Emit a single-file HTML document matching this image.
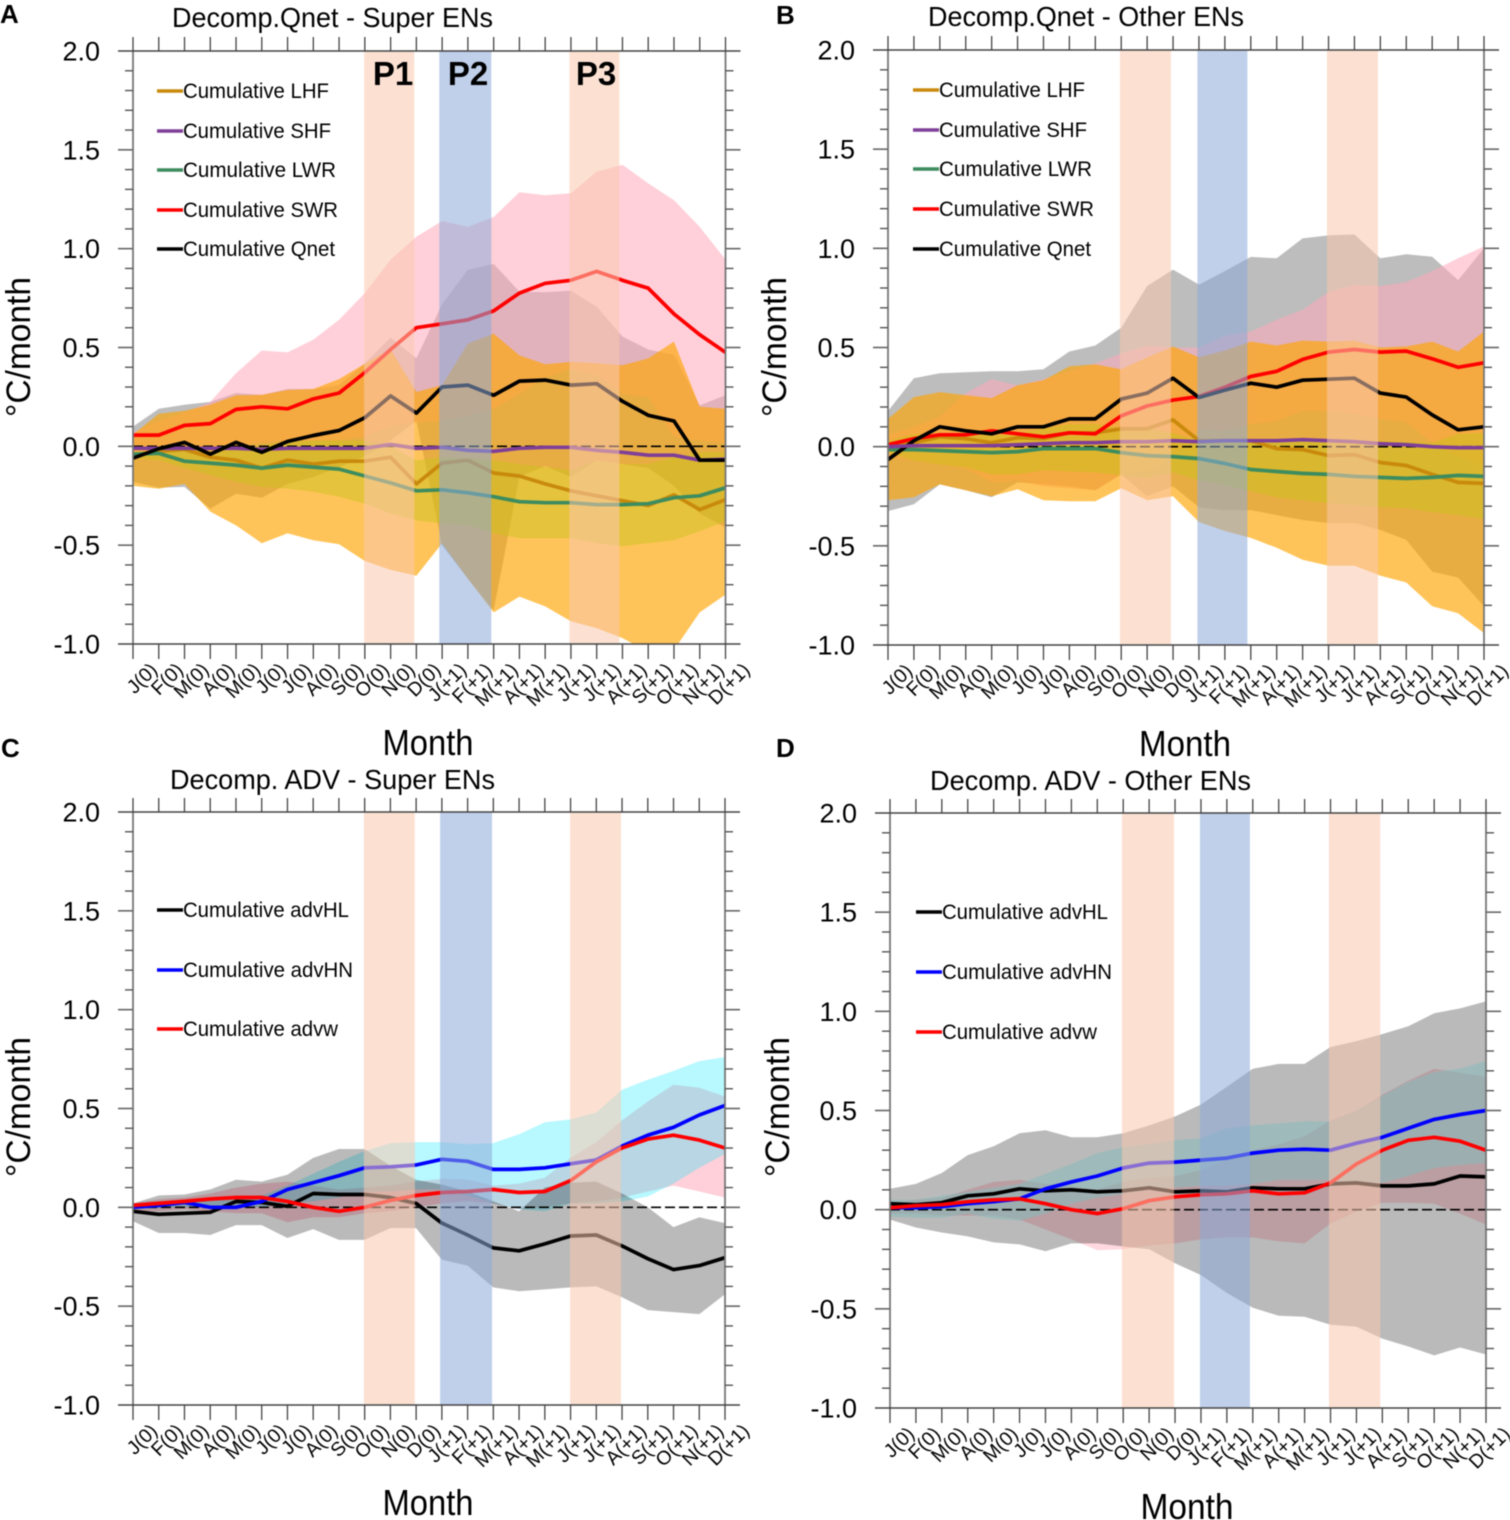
<!DOCTYPE html>
<html lang="en">
<head>
<meta charset="utf-8">
<title>Cumulative heat budget decomposition</title>
<style>
html,body{margin:0;padding:0;background:#fff;width:1510px;height:1520px;overflow:hidden}
svg{display:block;font-family:"Liberation Sans",sans-serif;fill:#000;filter:blur(0.4px)}
</style>
</head>
<body>
<svg id="figure" width="1510" height="1520" viewBox="0 0 1510 1520" xmlns="http://www.w3.org/2000/svg">

<g id="panel-a"></g>
<g id="panel-b"></g>
<g id="panel-c"></g>
<g id="panel-d"></g>

<g>
  <text x="0" y="23" font-size="26" font-weight="bold">A</text>
  <text x="172" y="27" font-size="28" textLength="321" lengthAdjust="spacingAndGlyphs">Decomp.Qnet - Super ENs</text>
  <text transform="translate(30,347) rotate(-90)" text-anchor="middle" font-size="34" textLength="140" lengthAdjust="spacingAndGlyphs">°C/month</text>
  <text x="428" y="755" text-anchor="middle" font-size="36" textLength="91" lengthAdjust="spacingAndGlyphs">Month</text>
  <text x="393" y="85" text-anchor="middle" font-size="33" font-weight="bold">P1</text>
  <text x="468" y="85" text-anchor="middle" font-size="33" font-weight="bold">P2</text>
  <text x="596" y="85" text-anchor="middle" font-size="33" font-weight="bold">P3</text>
  <g font-size="21">
    <line x1="157" x2="183" y1="91" y2="91" stroke="#c98a0c" stroke-width="3.5"/>
    <text x="183" y="98" textLength="146" lengthAdjust="spacingAndGlyphs">Cumulative LHF</text>
    <line x1="157" x2="183" y1="131" y2="131" stroke="#7f3f98" stroke-width="3.5"/>
    <text x="183" y="138" textLength="148" lengthAdjust="spacingAndGlyphs">Cumulative SHF</text>
    <line x1="157" x2="183" y1="170" y2="170" stroke="#3d8c5f" stroke-width="3.5"/>
    <text x="183" y="177" textLength="153" lengthAdjust="spacingAndGlyphs">Cumulative LWR</text>
    <line x1="157" x2="183" y1="210" y2="210" stroke="#ff0000" stroke-width="3.5"/>
    <text x="183" y="217" textLength="155" lengthAdjust="spacingAndGlyphs">Cumulative SWR</text>
    <line x1="157" x2="183" y1="249" y2="249" stroke="#000" stroke-width="3.5"/>
    <text x="183" y="256" textLength="152" lengthAdjust="spacingAndGlyphs">Cumulative Qnet</text>
  </g>
</g>

<g>
  <text x="776" y="24" font-size="26" font-weight="bold">B</text>
  <text x="928" y="26" font-size="28" textLength="316" lengthAdjust="spacingAndGlyphs">Decomp.Qnet - Other ENs</text>
  <text transform="translate(786,347) rotate(-90)" text-anchor="middle" font-size="34" textLength="140" lengthAdjust="spacingAndGlyphs">°C/month</text>
  <text x="1185" y="756" text-anchor="middle" font-size="36" textLength="92" lengthAdjust="spacingAndGlyphs">Month</text>
  <g font-size="21">
    <line x1="913" x2="939" y1="90" y2="90" stroke="#c98a0c" stroke-width="3.5"/>
    <text x="939" y="97" textLength="146" lengthAdjust="spacingAndGlyphs">Cumulative LHF</text>
    <line x1="913" x2="939" y1="130" y2="130" stroke="#7f3f98" stroke-width="3.5"/>
    <text x="939" y="137" textLength="148" lengthAdjust="spacingAndGlyphs">Cumulative SHF</text>
    <line x1="913" x2="939" y1="169" y2="169" stroke="#3d8c5f" stroke-width="3.5"/>
    <text x="939" y="176" textLength="153" lengthAdjust="spacingAndGlyphs">Cumulative LWR</text>
    <line x1="913" x2="939" y1="209" y2="209" stroke="#ff0000" stroke-width="3.5"/>
    <text x="939" y="216" textLength="155" lengthAdjust="spacingAndGlyphs">Cumulative SWR</text>
    <line x1="913" x2="939" y1="249" y2="249" stroke="#000" stroke-width="3.5"/>
    <text x="939" y="256" textLength="152" lengthAdjust="spacingAndGlyphs">Cumulative Qnet</text>
  </g>
</g>

<g>
  <text x="1" y="757" font-size="26" font-weight="bold">C</text>
  <text x="170" y="789" font-size="28" textLength="325" lengthAdjust="spacingAndGlyphs">Decomp. ADV - Super ENs</text>
  <text transform="translate(30,1107) rotate(-90)" text-anchor="middle" font-size="34" textLength="140" lengthAdjust="spacingAndGlyphs">°C/month</text>
  <text x="428" y="1515" text-anchor="middle" font-size="36" textLength="91" lengthAdjust="spacingAndGlyphs">Month</text>
  <g font-size="21">
    <line x1="157" x2="183" y1="910" y2="910" stroke="#000" stroke-width="3.5"/>
    <text x="183" y="917" textLength="166" lengthAdjust="spacingAndGlyphs">Cumulative advHL</text>
    <line x1="157" x2="183" y1="970" y2="970" stroke="#0000ff" stroke-width="3.5"/>
    <text x="183" y="977" textLength="170" lengthAdjust="spacingAndGlyphs">Cumulative advHN</text>
    <line x1="157" x2="183" y1="1029" y2="1029" stroke="#ff0000" stroke-width="3.5"/>
    <text x="183" y="1036" textLength="155" lengthAdjust="spacingAndGlyphs">Cumulative advw</text>
  </g>
</g>

<g>
  <text x="776" y="757" font-size="26" font-weight="bold">D</text>
  <text x="930" y="790" font-size="28" textLength="321" lengthAdjust="spacingAndGlyphs">Decomp. ADV - Other ENs</text>
  <text transform="translate(789,1107) rotate(-90)" text-anchor="middle" font-size="34" textLength="140" lengthAdjust="spacingAndGlyphs">°C/month</text>
  <text x="1187" y="1519" text-anchor="middle" font-size="36" textLength="93" lengthAdjust="spacingAndGlyphs">Month</text>
  <g font-size="21">
    <line x1="916" x2="942" y1="912" y2="912" stroke="#000" stroke-width="3.5"/>
    <text x="942" y="919" textLength="166" lengthAdjust="spacingAndGlyphs">Cumulative advHL</text>
    <line x1="916" x2="942" y1="972" y2="972" stroke="#0000ff" stroke-width="3.5"/>
    <text x="942" y="979" textLength="170" lengthAdjust="spacingAndGlyphs">Cumulative advHN</text>
    <line x1="916" x2="942" y1="1032" y2="1032" stroke="#ff0000" stroke-width="3.5"/>
    <text x="942" y="1039" textLength="155" lengthAdjust="spacingAndGlyphs">Cumulative advw</text>
  </g>
</g>
</svg>

<script>
// Categories and tick labels
const months = ['J(0)','F(0)','M(0)','A(0)','M(0)','J(0)','J(0)','A(0)','S(0)','O(0)','N(0)','D(0)','J(+1)','F(+1)','M(+1)','A(+1)','M(+1)','J(+1)','J(+1)','A(+1)','S(+1)','O(+1)','N(+1)','D(+1)'];
const yTickValues = [2.0,1.5,1.0,0.5,0.0,-0.5,-1.0];
const yTickLabels = ['2.0','1.5','1.0','0.5','0.0','-0.5','-1.0'];

// Panel A series
const aLhf  = [-.045,-.025,-.015,-.055,-.07,-.11,-.07,-.09,-.075,-.075,-.055,-.19,-.085,-.07,-.135,-.15,-.19,-.225,-.25,-.275,-.3,-.245,-.32,-.27];
const aShf  = [-.01,-.01,-.01,-.01,-.01,-.015,-.01,-.01,-.01,-.01,.01,-.01,-.005,-.02,-.025,-.01,-.005,-.005,-.02,-.03,-.045,-.045,-.07,-.065];
const aLwr  = [-.04,-.035,-.075,-.085,-.095,-.11,-.095,-.105,-.115,-.15,-.185,-.225,-.22,-.235,-.255,-.28,-.285,-.285,-.295,-.295,-.29,-.26,-.25,-.21];
const aSwr  = [.057,.057,.106,.115,.187,.2,.19,.24,.27,.373,.49,.6,.62,.64,.685,.775,.825,.84,.885,.84,.8,.67,.565,.475];
const aQnet = [-.06,-.012,.02,-.04,.02,-.03,.025,.055,.08,.145,.255,.168,.3,.31,.258,.33,.335,.31,.317,.228,.157,.128,-.07,-.07];
const aQnetUp = [.1,.19,.21,.225,.27,.26,.29,.29,.31,.42,.55,.446,.72,.893,.923,.783,.78,.788,.707,.555,.49,.463,.207,.258];
const aQnetLo = [-.18,-.21,-.205,-.315,-.24,-.26,-.19,-.155,-.105,-.05,.03,.13,-.5,-.67,-.83,-.155,-.1,-.155,-.07,-.09,-.11,-.2,-.34,-.41];
const aSwrUp  = [.07,.13,.17,.225,.37,.485,.475,.54,.64,.775,.945,1.06,1.14,1.11,1.16,1.285,1.27,1.28,1.39,1.425,1.33,1.245,1.11,.945];
const aSwrLo  = [-.03,-.02,-.02,-.02,0,.02,.03,.03,.03,.05,.1,.12,.13,.155,.19,.265,.35,.39,.36,.265,.25,.05,.03,.02];
const aLhfUp  = [.06,.165,.18,.21,.258,.26,.285,.29,.34,.418,.49,.275,.31,.52,.57,.46,.415,.427,.42,.41,.445,.53,.2,.19];
const aLhfLo  = [-.2,-.215,-.19,-.33,-.4,-.49,-.44,-.475,-.495,-.58,-.625,-.655,-.49,-.67,-.84,-.76,-.81,-.885,-.92,-.97,-1.04,-1.03,-.84,-.75];
const aLwrUp  = [-.03,-.02,-.02,-.035,-.01,.005,.02,.03,.03,.03,0,-.07,-.055,-.06,-.07,-.09,-.105,-.12,-.07,-.09,-.09,-.055,-.03,-.03];
const aLwrLo  = [-.06,-.07,-.11,-.145,-.18,-.205,-.215,-.23,-.255,-.29,-.34,-.375,-.39,-.4,-.44,-.465,-.465,-.465,-.49,-.505,-.49,-.475,-.43,-.38];

// Panel B series
const bLhf  = [0,.02,.05,.04,.02,.045,.04,.07,.07,.09,.09,.135,.03,.03,.03,-.01,-.015,-.045,-.04,-.08,-.095,-.14,-.18,-.185];
const bShf  = [0,.005,.005,.005,.005,.01,.015,.02,.02,.025,.025,.03,.025,.03,.03,.03,.035,.03,.025,.015,.01,0,-.005,-.005];
const bLwr  = [-.015,-.015,-.02,-.025,-.03,-.025,-.01,-.01,-.01,-.03,-.045,-.05,-.06,-.085,-.115,-.125,-.135,-.14,-.15,-.155,-.16,-.155,-.145,-.15];
const bSwr  = [.01,.04,.06,.06,.08,.065,.05,.07,.065,.155,.205,.235,.253,.3,.354,.38,.44,.477,.49,.477,.482,.443,.4,.423];
const bQnet = [-.065,.03,.1,.08,.065,.1,.1,.14,.14,.24,.27,.345,.248,.285,.32,.3,.335,.34,.345,.27,.25,.16,.085,.1];
const bQnetUp = [.18,.345,.37,.375,.38,.38,.39,.48,.51,.6,.81,.893,.817,.885,.957,.95,1.05,1.065,1.07,.95,.97,.958,.84,1.0];
const bQnetLo = [-.325,-.29,-.19,-.22,-.255,-.18,-.19,-.2,-.22,-.14,-.25,-.2,-.305,-.32,-.32,-.345,-.37,-.385,-.385,-.42,-.47,-.63,-.66,-.805];
const bSwrUp  = [.06,.1,.15,.27,.34,.31,.34,.38,.42,.47,.51,.5,.5,.56,.58,.64,.69,.78,.815,.81,.83,.885,.95,1.01];
const bSwrLo  = [-.05,-.07,-.09,-.11,-.18,-.17,-.2,-.21,-.22,-.14,-.12,-.05,.09,.08,.115,.13,.18,.18,.165,.14,.125,.02,-.05,-.1];
const bLhfUp  = [.14,.25,.275,.26,.245,.31,.335,.405,.415,.39,.45,.505,.45,.485,.53,.51,.535,.53,.535,.5,.505,.53,.48,.58];
const bLhfLo  = [-.27,-.255,-.19,-.22,-.25,-.215,-.27,-.275,-.275,-.21,-.27,-.25,-.38,-.425,-.46,-.51,-.57,-.6,-.6,-.65,-.685,-.805,-.84,-.94];
const bLwrUp  = [.03,.065,.05,.065,.055,.07,.09,.115,.115,.09,.09,.07,.03,.04,.04,.03,.03,.03,.03,.03,.025,.02,.065,.07];
const bLwrLo  = [-.03,-.07,-.09,-.105,-.14,-.14,-.12,-.125,-.13,-.145,-.16,-.13,-.17,-.195,-.225,-.255,-.27,-.285,-.295,-.305,-.31,-.33,-.345,-.365];

// Panel C series
const cAdvHl = [-.02,-.035,-.03,-.025,.03,.025,.005,.07,.065,.065,.05,.02,-.08,-.14,-.205,-.22,-.185,-.145,-.14,-.195,-.26,-.315,-.295,-.255];
const cAdvHn = [0,.01,.025,0,0,.03,.09,.125,.16,.2,.205,.214,.243,.233,.192,.192,.2,.22,.24,.31,.365,.405,.467,.515];
const cAdvW  = [.01,.02,.03,.042,.05,.05,.03,0,-.02,0,.035,.06,.075,.08,.09,.075,.08,.135,.23,.3,.345,.365,.34,.3];
const cHlUp  = [.02,.06,.065,.09,.14,.13,.165,.25,.295,.295,.21,.14,.115,.08,.03,-.02,.1,.125,.13,.07,0,-.1,-.05,-.08];
const cHlLo  = [-.07,-.13,-.13,-.14,-.09,-.09,-.155,-.11,-.165,-.165,-.105,-.105,-.265,-.295,-.405,-.425,-.415,-.405,-.4,-.455,-.52,-.53,-.54,-.44];
const cHnUp  = [.02,.03,.035,.04,.05,.06,.11,.17,.23,.285,.325,.33,.33,.32,.325,.37,.43,.445,.48,.595,.645,.69,.74,.76];
const cHnLo  = [-.01,-.005,0,0,0,0,.02,.03,.05,.08,.08,.09,.09,.06,.02,-.01,-.02,.02,.02,.03,.055,.12,.2,.27];
const cWUp   = [.02,.04,.05,.07,.1,.12,.13,.11,.09,.1,.11,.13,.145,.14,.11,.12,.15,.25,.33,.44,.535,.62,.605,.56];
const cWLo   = [-.02,-.02,-.01,-.02,-.03,-.03,-.075,-.05,-.05,-.03,-.02,0,.02,.03,.02,-.01,0,.02,.03,.05,.08,.11,.08,.05];

// Panel D series
const dAdvHl = [.03,.025,.035,.07,.08,.105,.095,.1,.09,.095,.11,.09,.095,.09,.11,.105,.105,.13,.135,.12,.12,.13,.17,.165];
const dAdvHn = [.01,.01,.015,.03,.04,.055,.105,.14,.17,.21,.235,.24,.25,.26,.285,.3,.305,.3,.335,.365,.41,.455,.48,.5];
const dAdvW  = [.01,.02,.025,.04,.05,.055,.03,0,-.02,.005,.045,.065,.075,.08,.095,.08,.085,.135,.23,.3,.35,.365,.345,.3];
const dHlUp  = [.105,.13,.185,.275,.32,.385,.4,.365,.365,.385,.425,.47,.53,.62,.71,.735,.735,.82,.85,.885,.925,.99,1.015,1.05];
const dHlLo  = [-.05,-.09,-.115,-.135,-.165,-.175,-.21,-.17,-.17,-.185,-.2,-.27,-.33,-.42,-.495,-.535,-.54,-.58,-.59,-.65,-.69,-.735,-.695,-.73];
const dHnUp  = [.05,.05,.07,.09,.11,.13,.18,.23,.285,.315,.33,.35,.36,.41,.425,.435,.445,.445,.5,.575,.645,.695,.71,.75];
const dHnLo  = [-.035,-.04,-.04,-.02,-.045,-.055,-.02,.03,.06,.08,.1,.11,.12,.12,.13,.15,.15,.15,.13,.135,.17,.21,.225,.235];
const dWUp   = [.03,.05,.06,.1,.14,.15,.13,.12,.1,.14,.16,.17,.2,.25,.3,.33,.37,.45,.5,.58,.65,.71,.69,.67];
const dWLo   = [-.02,-.02,-.03,-.03,-.03,-.05,-.1,-.15,-.205,-.2,-.18,-.17,-.15,-.14,-.14,-.16,-.17,-.07,-.01,.035,.035,.03,-.02,-.075];

const GRAY_SOLID = '#bdbdbd';
const GRAY_TRANS = 'rgba(0,0,0,0.27)';
const PINK  = 'rgba(255,170,185,0.55)';
const ORANGE = 'rgba(255,165,0,0.65)';
const OLIVE = 'rgba(200,195,25,0.45)';

const panels = [
  { id:'a', left:133, right:725.5, top:51, bottom:644,
    bands:[[8.97,10.92,'#fac8af'],[11.89,13.91,'#8caad9'],[16.94,18.88,'#fac8af']],
    fills:[[aQnetUp,aQnetLo,GRAY_SOLID,'qnet-range'],[aSwrUp,aSwrLo,PINK,'swr-range'],[aLhfUp,aLhfLo,ORANGE,'lhf-range'],[aLwrUp,aLwrLo,OLIVE,'lwr-range']],
    lines:[[aLhf,'#c98a0c','lhf-line'],[aLwr,'#3d8c5f','lwr-line'],[aSwr,'#ff0000','swr-line'],[aShf,'#7f3f98','shf-line'],[aQnet,'#000000','qnet-line']] },
  { id:'b', left:888, right:1484, top:50, bottom:645,
    bands:[[8.95,10.92,'#fac8af'],[11.94,13.87,'#8caad9'],[16.94,18.91,'#fac8af']],
    fills:[[bQnetUp,bQnetLo,GRAY_SOLID,'qnet-range'],[bSwrUp,bSwrLo,PINK,'swr-range'],[bLhfUp,bLhfLo,ORANGE,'lhf-range'],[bLwrUp,bLwrLo,OLIVE,'lwr-range']],
    lines:[[bLhf,'#c98a0c','lhf-line'],[bLwr,'#3d8c5f','lwr-line'],[bSwr,'#ff0000','swr-line'],[bQnet,'#000000','qnet-line'],[bShf,'#7f3f98','shf-line']] },
  { id:'c', left:133, right:725, top:812, bottom:1405,
    bands:[[8.97,10.95,'#fac8af'],[11.93,13.95,'#8caad9'],[16.98,18.96,'#fac8af']],
    fills:[[cWUp,cWLo,'rgba(255,170,185,0.55)','advw-range'],[cHnUp,cHnLo,'rgba(0,230,255,0.28)','advhn-range'],[cHlUp,cHlLo,GRAY_TRANS,'advhl-range']],
    lines:[[cAdvHl,'#000000','advhl-line'],[cAdvHn,'#0000ff','advhn-line'],[cAdvW,'#ff0000','advw-line']] },
  { id:'d', left:890, right:1486, top:813, bottom:1408,
    bands:[[8.95,10.96,'#fac8af'],[11.96,13.89,'#8caad9'],[16.94,18.92,'#fac8af']],
    fills:[[dWUp,dWLo,'rgba(255,170,185,0.45)','advw-range'],[dHnUp,dHnLo,'rgba(190,255,255,0.6)','advhn-range'],[dHlUp,dHlLo,GRAY_TRANS,'advhl-range']],
    lines:[[dAdvHl,'#000000','advhl-line'],[dAdvHn,'#0000ff','advhn-line'],[dAdvW,'#ff0000','advw-line']] }
];

const NS = 'http://www.w3.org/2000/svg';
function mk(tag, parent) {
  const el = document.createElementNS(NS, tag);
  parent.appendChild(el);
  return el;
}
function seg(parent, x1, y1, x2, y2, color, width) {
  const el = mk('line', parent);
  el.setAttribute('x1', x1);
  el.setAttribute('y1', y1);
  el.setAttribute('x2', x2);
  el.setAttribute('y2', y2);
  el.setAttribute('stroke', color);
  el.setAttribute('stroke-width', width);
  return el;
}

panels.forEach(function (p) {
  const root = document.getElementById('panel-' + p.id);
  const nMonths = months.length;
  const xScale = function (i) { return p.left + i * (p.right - p.left) / (nMonths - 1); };
  const yScale = function (v) { return p.bottom + (v + 1) * (p.top - p.bottom) / 3; };

  const clip = mk('clipPath', root);
  clip.setAttribute('id', 'clip-' + p.id);
  const clipRect = mk('rect', clip);
  clipRect.setAttribute('x', p.left);
  clipRect.setAttribute('y', p.top);
  clipRect.setAttribute('width', p.right - p.left);
  clipRect.setAttribute('height', p.bottom - p.top);

  // Shaded ranges
  const fillGroup = mk('g', root);
  fillGroup.setAttribute('clip-path', 'url(#clip-' + p.id + ')');
  
  
  p.fills.forEach(function (f) {
    const upper = f[0], lower = f[1];
    let d = '';
    upper.forEach(function (v, i) { d += (i ? 'L' : 'M') + xScale(i).toFixed(1) + ' ' + yScale(v).toFixed(1); });
    for (let i = lower.length - 1; i >= 0; i--) { d += 'L' + xScale(i).toFixed(1) + ' ' + yScale(lower[i]).toFixed(1); }
    const shape = mk('path', fillGroup);
    shape.setAttribute('d', d + 'Z');
    shape.setAttribute('fill', f[2]);
    
    
  });

  // Zero reference line
  const zero = seg(root, p.left, yScale(0), p.right, yScale(0), '#000', 1.6);
  zero.setAttribute('stroke-dasharray', '10 4');
  
  

  // Series lines
  p.lines.forEach(function (s) {
    let d = '';
    s[0].forEach(function (v, i) { d += (i ? 'L' : 'M') + xScale(i).toFixed(1) + ' ' + yScale(v).toFixed(1); });
    const path = mk('path', root);
    path.setAttribute('d', d);
    path.setAttribute('fill', 'none');
    path.setAttribute('stroke', s[1]);
    path.setAttribute('stroke-width', '3.7');
    path.setAttribute('stroke-linejoin', 'round');
    
    
  });

  // Period bands, over the lines
  p.bands.forEach(function (b, k) {
    const band = mk('rect', root);
    band.setAttribute('x', xScale(b[0]));
    band.setAttribute('y', p.top);
    band.setAttribute('width', xScale(b[1]) - xScale(b[0]));
    band.setAttribute('height', p.bottom - p.top);
    band.setAttribute('fill', b[2]);
    band.setAttribute('fill-opacity', '0.55');
    
    
  });

  // Axes
  const axes = mk('g', root);
  
  
  seg(axes, p.left, p.top, p.left, p.bottom, '#777', 1.8);
  seg(axes, p.right, p.top, p.right, p.bottom, '#777', 1.8);

  for (let t = 0; t <= 30; t++) {
    if (t % 5 === 0) continue;
    const v = -1 + t / 10;
    seg(axes, p.left - 8, yScale(v), p.left, yScale(v), '#555', 1.4);
    seg(axes, p.right, yScale(v), p.right + 8, yScale(v), '#555', 1.4);
  }
  yTickValues.forEach(function (v, k) {
    const isEdge = (k === 0 || k === yTickValues.length - 1);
    const c = isEdge ? '#444' : '#666';
    if (isEdge) {
      seg(axes, p.left - 15, yScale(v), p.right + 15, yScale(v), c, 1.6);
    } else {
      seg(axes, p.left - 15, yScale(v), p.left, yScale(v), c, 1.6);
      seg(axes, p.right, yScale(v), p.right + 15, yScale(v), c, 1.6);
    }
    const label = mk('text', axes);
    label.setAttribute('x', p.left - 33);
    label.setAttribute('y', yScale(v) + 9.5);
    label.setAttribute('text-anchor', 'end');
    label.setAttribute('font-size', '27');
    
    
    label.textContent = yTickLabels[k];
  });

  months.forEach(function (m, i) {
    const x = xScale(i);
    seg(axes, x, p.top - 14, x, p.top, '#444', 1.3);
    seg(axes, x, p.bottom, x, p.bottom + 15, '#444', 1.3);
    const label = mk('text', axes);
    label.setAttribute('text-anchor', 'end');
    label.setAttribute('font-size', '19.5');
    label.setAttribute('transform', 'translate(' + (x + 25.5) + ',' + (p.bottom + 27) + ') rotate(-45)');
    
    
    label.textContent = m;
  });
});
</script>
</body>
</html>
